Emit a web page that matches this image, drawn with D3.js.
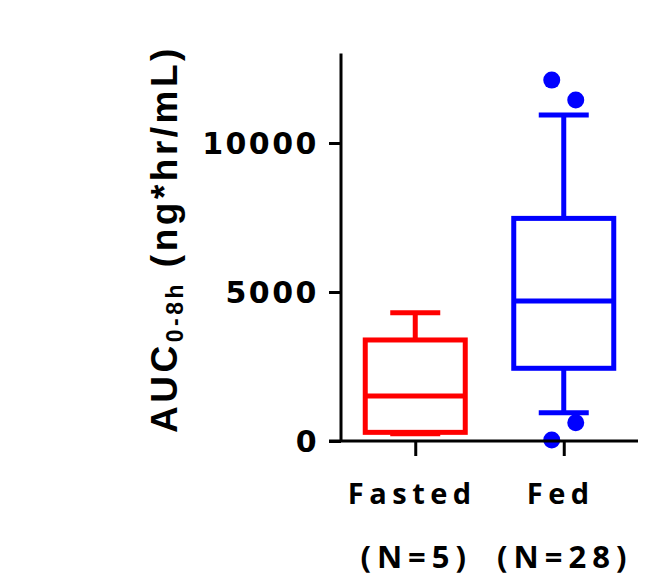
<!DOCTYPE html>
<html>
<head>
<meta charset="utf-8">
<script src="https://cdn.jsdelivr.net/npm/d3@7"></script>
<style>
  html, body { margin: 0; padding: 0; background: #fff; }
  svg { display: block; }
</style>
</head>
<body>
<svg id="chart"></svg>
<script>

// groups on the x axis
const groups = ["Fasted", "Fed"];
const groupCounts = ["(N=5)", "(N=28)"];
const groupColors = ["#ff0000", "#0000ff"];

// box plot summary per group: [low whisker, Q1, median, Q3, high whisker]
const fastedBox = [240, 290, 1510, 3390, 4305];
const fedBox = [950, 2440, 4700, 7470, 10940];

// points outside the whiskers (Fed only)
const fedOutliers = [12110, 11440, 615, 30];
const fedOutlierSide = [-1, 1, 1, -1];

const yTicks = [0, 5000, 10000];
const yMax = 13000;

const width = 671, height = 577;

var svg = d3.select("svg#chart")
    .attr("width", width)
    .attr("height", height);

var x = d3.scalePoint()
    .domain(groups)
    .range([341, 638])
    .padding(0.5);

var y = d3.scaleLinear()
    .domain([0, yMax])
    .range([441, 53.6]);

const boxWidth = 100;
const capWidth = 50;
const lineW = 5;

function drawBox(stats, cx, color) {
  let g = svg.append("g")
      .style("stroke", color)
      .style("stroke-width", lineW)
      .style("fill", "none");
  // whiskers
  g.append("line")
      .attr("x1", cx).attr("x2", cx)
      .attr("y1", y(stats[3])).attr("y2", y(stats[4]));
  g.append("line")
      .attr("x1", cx).attr("x2", cx)
      .attr("y1", y(stats[1])).attr("y2", y(stats[0]));
  // caps
  [stats[0], stats[4]].forEach(function(v) {
    g.append("line")
        .attr("x1", cx - capWidth / 2).attr("x2", cx + capWidth / 2)
        .attr("y1", y(v)).attr("y2", y(v));
  });
  // box
  g.append("rect")
      .attr("x", cx - boxWidth / 2)
      .attr("width", boxWidth)
      .attr("y", y(stats[3]))
      .attr("height", y(stats[1]) - y(stats[3]))
      .style("fill", "#fff");
  // median
  g.append("line")
      .attr("x1", cx - boxWidth / 2).attr("x2", cx + boxWidth / 2)
      .attr("y1", y(stats[2])).attr("y2", y(stats[2]));
}

drawBox(fastedBox, x("Fasted"), groupColors[0]);
drawBox(fedBox, x("Fed"), groupColors[1]);

// outlier dots
svg.append("g")
  .selectAll("circle")
  .data(fedOutliers)
  .enter()
  .append("circle")
    .attr("cx", function(d, i) { return x("Fed") + fedOutlierSide[i] * 12; })
    .attr("cy", function(d) { return y(d); })
    .attr("r", 8.5)
    .style("fill", groupColors[1]);

// y axis
var yAxis = svg.append("g")
    .attr("transform", "translate(341,0)")
    .call(d3.axisLeft(y)
      .tickValues(yTicks)
      .tickSize(12)
      .tickPadding(10)
      .tickFormat(function(d) { return String(d); }));

yAxis.select(".domain")
    .attr("d", "M0," + y(yMax) + "V" + y(0))
    .style("stroke", "#000")
    .style("stroke-width", 3);
yAxis.selectAll(".tick line")
    .style("stroke", "#000")
    .style("stroke-width", 3);
yAxis.selectAll(".tick text")
    .style("font-family", "'DejaVu Sans', Verdana, sans-serif")
    .style("font-size", "30px")
    .style("font-weight", "bold")
    .style("letter-spacing", "2.5px")
    .style("fill", "#000")
    .attr("dy", "0.36em");

// x axis
var xAxis = svg.append("g")
    .attr("transform", "translate(0," + y(0) + ")")
    .call(d3.axisBottom(x)
      .tickSize(15)
      .tickFormat(""));

xAxis.select(".domain")
    .attr("d", "M329,0H638")
    .style("stroke", "#000")
    .style("stroke-width", 3);
xAxis.selectAll(".tick line")
    .style("stroke", "#000")
    .style("stroke-width", 3);

// category labels
svg.append("g")
  .selectAll("text")
  .data(groups)
  .enter()
  .append("text")
    .attr("x", function(d) { return x(d) - 3; })
    .attr("y", 504)
    .attr("text-anchor", "middle")
    .style("font-family", "'Open Sans', sans-serif")
    .style("font-size", "29px")
    .style("font-weight", "bold")
    .style("letter-spacing", "5.5px")
    .text(function(d) { return d; });

svg.append("g")
  .selectAll("text")
  .data(groupCounts)
  .enter()
  .append("text")
    .attr("x", function(d, i) { return x(groups[i]) + 1; })
    .attr("y", 568)
    .attr("text-anchor", "middle")
    .style("font-family", "'Open Sans', sans-serif")
    .style("font-size", "31px")
    .style("font-weight", "bold")
    .style("letter-spacing", "6px")
    .text(function(d) { return d; });

// y axis title
var title = svg.append("text")
    .attr("transform", "translate(177,239) rotate(-90)")
    .attr("text-anchor", "middle")
    .style("font-family", "'Liberation Sans', Arial, sans-serif")
    .style("font-size", "37px")
    .style("font-weight", "bold")
    .style("letter-spacing", "3.5px");

title.append("tspan").text("AUC");
title.append("tspan")
    .attr("dy", 6)
    .style("font-size", "23px")
    .text("0-8h");
title.append("tspan")
    .attr("dy", -6)
    .text(" (ng*hr/mL)");

</script>
</body>
</html>
